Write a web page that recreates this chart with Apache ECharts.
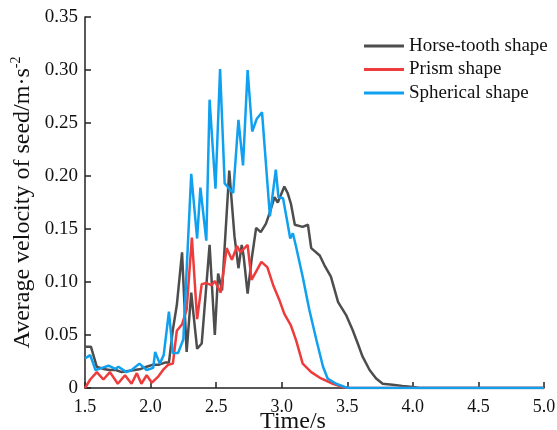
<!DOCTYPE html>
<html>
<head>
<meta charset="utf-8">
<script src="https://cdn.jsdelivr.net/npm/echarts@6/dist/echarts.min.js"></script>
<style>html,body{margin:0;padding:0;background:#fff}#c{width:557px;height:430px}</style>
</head>
<body>
<div id="c"></div>
<script>
const seriesNames = ['Horse-tooth shape', 'Prism shape', 'Spherical shape'];
const xTicks = [1.5, 2.0, 2.5, 3.0, 3.5, 4.0, 4.5, 5.0];
const yTicks = [0, 0.05, 0.10, 0.15, 0.20, 0.25, 0.30, 0.35];

const horseTime = [1.50,1.545,1.59,1.64,1.69,1.735,1.78,1.83,1.88,1.925,1.97,2.02,2.065,2.11,2.14,2.17,2.20,2.24,2.275,2.31,2.355,2.39,2.45,2.49,2.515,2.545,2.60,2.64,2.67,2.695,2.71,2.74,2.77,2.805,2.84,2.88,2.91,2.945,2.97,3.02,3.045,3.07,3.10,3.16,3.20,3.225,3.29,3.325,3.375,3.43,3.49,3.54,3.58,3.615,3.67,3.72,3.77,3.845,3.92,4.00,4.05,5.00];
const horseVel  = [0.039,0.039,0.020,0.018,0.017,0.017,0.015,0.016,0.017,0.018,0.020,0.022,0.022,0.024,0.024,0.055,0.078,0.128,0.034,0.090,0.037,0.042,0.135,0.050,0.108,0.092,0.205,0.143,0.113,0.135,0.124,0.089,0.121,0.151,0.147,0.155,0.166,0.180,0.175,0.190,0.184,0.174,0.154,0.152,0.154,0.132,0.125,0.116,0.105,0.081,0.069,0.055,0.042,0.030,0.017,0.009,0.004,0.003,0.002,0.001,0.000,0.000];

const prismTime = [1.50,1.54,1.59,1.64,1.69,1.75,1.805,1.855,1.895,1.93,1.97,2.01,2.06,2.095,2.135,2.17,2.20,2.24,2.275,2.315,2.355,2.39,2.425,2.465,2.49,2.535,2.58,2.62,2.66,2.685,2.74,2.77,2.845,2.89,2.935,2.985,3.02,3.07,3.11,3.16,3.225,3.30,3.39,3.465,3.52,5.00];
const prismVel  = [0.000,0.008,0.015,0.008,0.015,0.004,0.012,0.004,0.014,0.004,0.012,0.005,0.011,0.017,0.022,0.023,0.054,0.060,0.074,0.142,0.065,0.098,0.099,0.097,0.101,0.090,0.132,0.121,0.134,0.128,0.135,0.102,0.119,0.114,0.097,0.082,0.070,0.059,0.045,0.023,0.015,0.009,0.004,0.001,0.000,0.000];

const sphereTime = [1.50,1.54,1.58,1.63,1.68,1.73,1.755,1.815,1.855,1.915,1.97,2.02,2.035,2.07,2.10,2.14,2.17,2.21,2.25,2.31,2.355,2.38,2.425,2.45,2.495,2.53,2.565,2.615,2.63,2.67,2.705,2.74,2.775,2.81,2.85,2.91,2.955,2.975,3.01,3.035,3.065,3.085,3.11,3.16,3.21,3.265,3.315,3.35,3.415,3.48,3.52,5.00];
const sphereVel  = [0.028,0.031,0.017,0.019,0.021,0.018,0.020,0.015,0.017,0.023,0.017,0.019,0.034,0.023,0.031,0.072,0.033,0.033,0.046,0.202,0.141,0.189,0.139,0.272,0.188,0.301,0.193,0.186,0.184,0.253,0.210,0.300,0.242,0.254,0.260,0.162,0.206,0.180,0.179,0.162,0.141,0.146,0.133,0.105,0.074,0.045,0.020,0.009,0.004,0.001,0.000,0.000];

const colors = ['#4d4d4d', '#ee3b3b', '#10a0f0'];
const FONT = '"Liberation Serif", "Times New Roman", serif';

function pairs(t, v) { return t.map((x, i) => [x, v[i]]); }

const chart = echarts.init(document.getElementById('c'), null, {renderer: 'canvas'});
chart.setOption({
  animation: false,
  backgroundColor: '#fff',
  color: colors,
  grid: {left: 85, right: 13, top: 17, bottom: 42, containLabel: false, outerBoundsMode: 'none'},
  legend: {
    orient: 'vertical',
    left: 359, top: 31,
    icon: 'rect', itemWidth: 40, itemHeight: 3, itemGap: 3.5, itemTextGap: 9,
    textStyle: {fontFamily: FONT, fontSize: 19, color: '#111', lineHeight: 20},
    data: seriesNames
  },
  xAxis: {
    type: 'value', min: xTicks[0], max: xTicks[xTicks.length - 1], interval: 0.5,
    splitLine: {show: false},
    axisLine: {lineStyle: {color: '#222', width: 1.5}},
    axisTick: {inside: true, length: 6, lineStyle: {color: '#222', width: 1.5}},
    axisLabel: {margin: 10, fontFamily: FONT, fontSize: 18, color: '#111', formatter: v => v.toFixed(1)},
    name: 'Time/s', nameLocation: 'middle', nameGap: 22, nameMoveOverlap: false,
    nameTextStyle: {fontFamily: FONT, fontSize: 24, color: '#111', padding: [0, 43, 0, 0]}
  },
  yAxis: {
    type: 'value', min: yTicks[0], max: yTicks[yTicks.length - 1], interval: 0.05,
    splitLine: {show: false},
    axisLine: {show: true, lineStyle: {color: '#222', width: 1.5}},
    axisTick: {show: true, inside: true, length: 6, lineStyle: {color: '#222', width: 1.5}},
    axisLabel: {margin: 7, fontFamily: FONT, fontSize: 19, color: '#111', formatter: v => v === 0 ? '0' : v.toFixed(2)},
    name: '{a|Average velocity of seed/m·s}{s|-2}', nameLocation: 'middle', nameGap: 49, nameMoveOverlap: false,
    nameTextStyle: {
      fontFamily: FONT, fontSize: 24, color: '#111',
      rich: {
        a: {fontFamily: FONT, fontSize: 24, color: '#111'},
        s: {fontFamily: FONT, fontSize: 14, color: '#111', padding: [0, 0, 13, 0]}
      }
    }
  },
  series: [
    {name: seriesNames[0], type: 'line', showSymbol: false, symbol: 'none', data: pairs(horseTime, horseVel), lineStyle: {width: 2.5, color: colors[0]}},
    {name: seriesNames[1], type: 'line', showSymbol: false, symbol: 'none', data: pairs(prismTime, prismVel), lineStyle: {width: 2.5, color: colors[1]}},
    {name: seriesNames[2], type: 'line', showSymbol: false, symbol: 'none', data: pairs(sphereTime, sphereVel), lineStyle: {width: 2.5, color: colors[2]}}
  ]
});
</script>
</body>
</html>
